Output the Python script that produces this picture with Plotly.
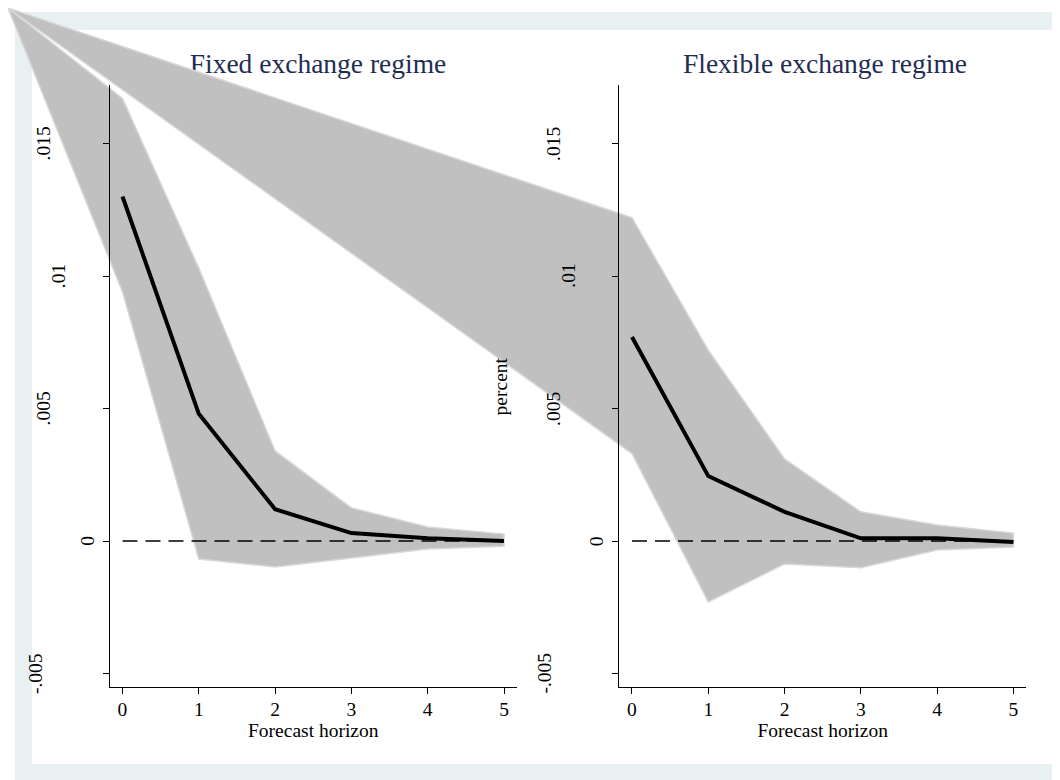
import math
import plotly.graph_objects as go

# ---------------- data ----------------
horizons = [0, 1, 2, 3, 4, 5]

fixed_irf = [0.0130, 0.0048, 0.0012, 0.0003, 0.0001, 0.0000]
fixed_upper = [0.0167, 0.0103, 0.0034, 0.00125, 0.00053, 0.00026]
fixed_lower = [0.0094, -0.00068, -0.00098, -0.00064, -0.00030, -0.00020]

flex_irf = [0.0077, 0.00245, 0.0011, 0.0001, 0.0001, -0.00004]
flex_upper = [0.0122, 0.0072, 0.0031, 0.0011, 0.0006, 0.0003]
flex_lower = [0.0033, -0.0023, -0.00087, -0.00101, -0.00034, -0.00023]

zero_line = [0, 0, 0, 0, 0, 0]

panel_titles = ["Fixed exchange regime", "Flexible exchange regime"]
ytick_vals = [-0.005, 0, 0.005, 0.01, 0.015]
ytick_text = ["-.005", "0", ".005", ".01", ".015"]
x_title = "Forecast horizon"
y_title = "percent"

# ---------------- geometry / style ----------------
W, H = 1052, 772
FONT = "Liberation Serif, Times New Roman, serif"
TITLE_COLOR = "#1f2d54"
FRAME_BLUE = "#e8f0f2"
BAND_FILL = "#c0c0c0"
BAND_EDGE = "#d8d8d8"
TICK_SIZE = 19.5

X_RANGE = [-0.165, 5.165]
Y_RANGE = [-0.005509, 0.017208]
left_dom = [101.9 / W, 508.6 / W]
right_dom = [611.4 / W, 1018.0 / W]
y_dom = [1 - 679 / H, 1 - 77 / H]


def full_range(rng, dom):
    span = (rng[1] - rng[0]) / (dom[1] - dom[0])
    lo = rng[0] - dom[0] * span
    return [lo, lo + span]


fig = go.Figure()

# panel titles (drawn first so that the bands sit above them)
title_x = [(318 - 8) / W, (825 - 8) / W]
title_y = [1 - (66 - 8) / H] * 2
fig.add_trace(go.Scatter(
    x=title_x, y=title_y, mode="text", text=panel_titles,
    textfont=dict(family=FONT, size=27.5, color=TITLE_COLOR),
    textposition="middle center", cliponaxis=False,
    xaxis="x", yaxis="y", showlegend=False, hoverinfo="skip"))

# confidence bands on full-page axes
bands = [
    ("x2", "y2", left_dom, fixed_upper, fixed_lower),
    ("x3", "y3", right_dom, flex_upper, flex_lower),
]
band_ranges = {}
for xa, ya, dom, up, lo in bands:
    xr = full_range(X_RANGE, dom)
    yr = full_range(Y_RANGE, y_dom)
    band_ranges[xa] = (xr, yr)
    px = [xr[0]] + horizons + horizons[::-1] + [xr[0]]
    py = [yr[1]] + up + lo[::-1] + [yr[1]]
    fig.add_trace(go.Scatter(
        x=px, y=py, mode="lines", fill="toself", fillcolor=BAND_FILL,
        line=dict(color=BAND_EDGE, width=1.5),
        xaxis=xa, yaxis=ya, showlegend=False, hoverinfo="skip"))

# panel lines
for xa, ya, irf in [("x4", "y4", fixed_irf), ("x5", "y5", flex_irf)]:
    fig.add_trace(go.Scatter(
        x=horizons, y=zero_line, mode="lines",
        line=dict(color="black", width=1.5, dash="15px,8px"),
        xaxis=xa, yaxis=ya, showlegend=False, hoverinfo="skip"))
    fig.add_trace(go.Scatter(
        x=horizons, y=irf, mode="lines",
        line=dict(color="black", width=4),
        xaxis=xa, yaxis=ya, showlegend=False, hoverinfo="skip"))

hidden = dict(visible=False, showgrid=False, zeroline=False, fixedrange=True)

panel_x = dict(range=X_RANGE, showline=True, linecolor="black", linewidth=1,
               ticks="outside", ticklen=6, tickwidth=1, tickcolor="black",
               tickvals=horizons, showgrid=False, zeroline=False,
               ticklabelstandoff=-1,
               tickfont=dict(family=FONT, size=TICK_SIZE, color="black"),
               title=dict(text=x_title, standoff=2,
                          font=dict(family=FONT, size=TICK_SIZE, color="black")))
panel_y = dict(range=Y_RANGE, domain=y_dom, showline=True, linecolor="black",
               linewidth=1, ticks="outside", ticklen=6, tickwidth=1,
               tickcolor="black", tickvals=ytick_vals, showticklabels=False,
               showgrid=False, zeroline=False)

fig.update_layout(
    width=W, height=H, autosize=False,
    margin=dict(l=0, r=0, t=0, b=0, pad=0),
    paper_bgcolor="white", plot_bgcolor="rgba(0,0,0,0)",
    showlegend=False, hovermode=False,
    xaxis=dict(domain=[0, 1], range=[0, 1], anchor="y", **hidden),
    yaxis=dict(domain=[0, 1], range=[0, 1], anchor="x", **hidden),
    xaxis2=dict(domain=[0, 1], range=band_ranges["x2"][0], anchor="y2", **hidden),
    yaxis2=dict(domain=[0, 1], range=band_ranges["x2"][1], anchor="x2", **hidden),
    xaxis3=dict(domain=[0, 1], range=band_ranges["x3"][0], anchor="y3", **hidden),
    yaxis3=dict(domain=[0, 1], range=band_ranges["x3"][1], anchor="x3", **hidden),
    xaxis4=dict(domain=left_dom, anchor="y4", **panel_x),
    yaxis4=dict(anchor="x4", **panel_y),
    xaxis5=dict(domain=right_dom, anchor="y5", **panel_x),
    yaxis5=dict(anchor="x5", **panel_y),
    shapes=[
        dict(type="rect", xref="paper", yref="paper", layer="below",
             x0=7 / W, x1=1, y0=0, y1=1 - 4 / H,
             fillcolor=FRAME_BLUE, line=dict(width=0)),
        dict(type="rect", xref="paper", yref="paper", layer="below",
             x0=24 / W, x1=1047 / W, y0=1 - 756 / H, y1=1 - 22 / H,
             fillcolor="white", line=dict(width=0)),
    ],
)

# rotated y tick labels (offset grows with label length, as in the original)
CHAR_W = {"-": 0.333, ".": 0.25}


def label_offset(txt):
    w = sum(CHAR_W.get(c, 0.5) for c in txt) * TICK_SIZE
    return 15.8 * math.sqrt(w) - 26.3


annos = []
for xa, ya in [("x4", "y4"), ("x5", "y5")]:
    for v, t in zip(ytick_vals, ytick_text):
        annos.append(dict(
            xref=xa + " domain", x=0, xshift=-label_offset(t),
            yref=ya, y=v, text=t, textangle=-90, showarrow=False,
            xanchor="center", yanchor="middle",
            font=dict(family=FONT, size=TICK_SIZE, color="black")))
annos.append(dict(
    xref="x5 domain", x=0, xshift=-119, yref="y5 domain", y=0.5,
    text=y_title, textangle=-90, showarrow=False,
    xanchor="center", yanchor="middle",
    font=dict(family=FONT, size=TICK_SIZE, color="black")))
fig.update_layout(annotations=annos)

fig.write_html("out.html")
